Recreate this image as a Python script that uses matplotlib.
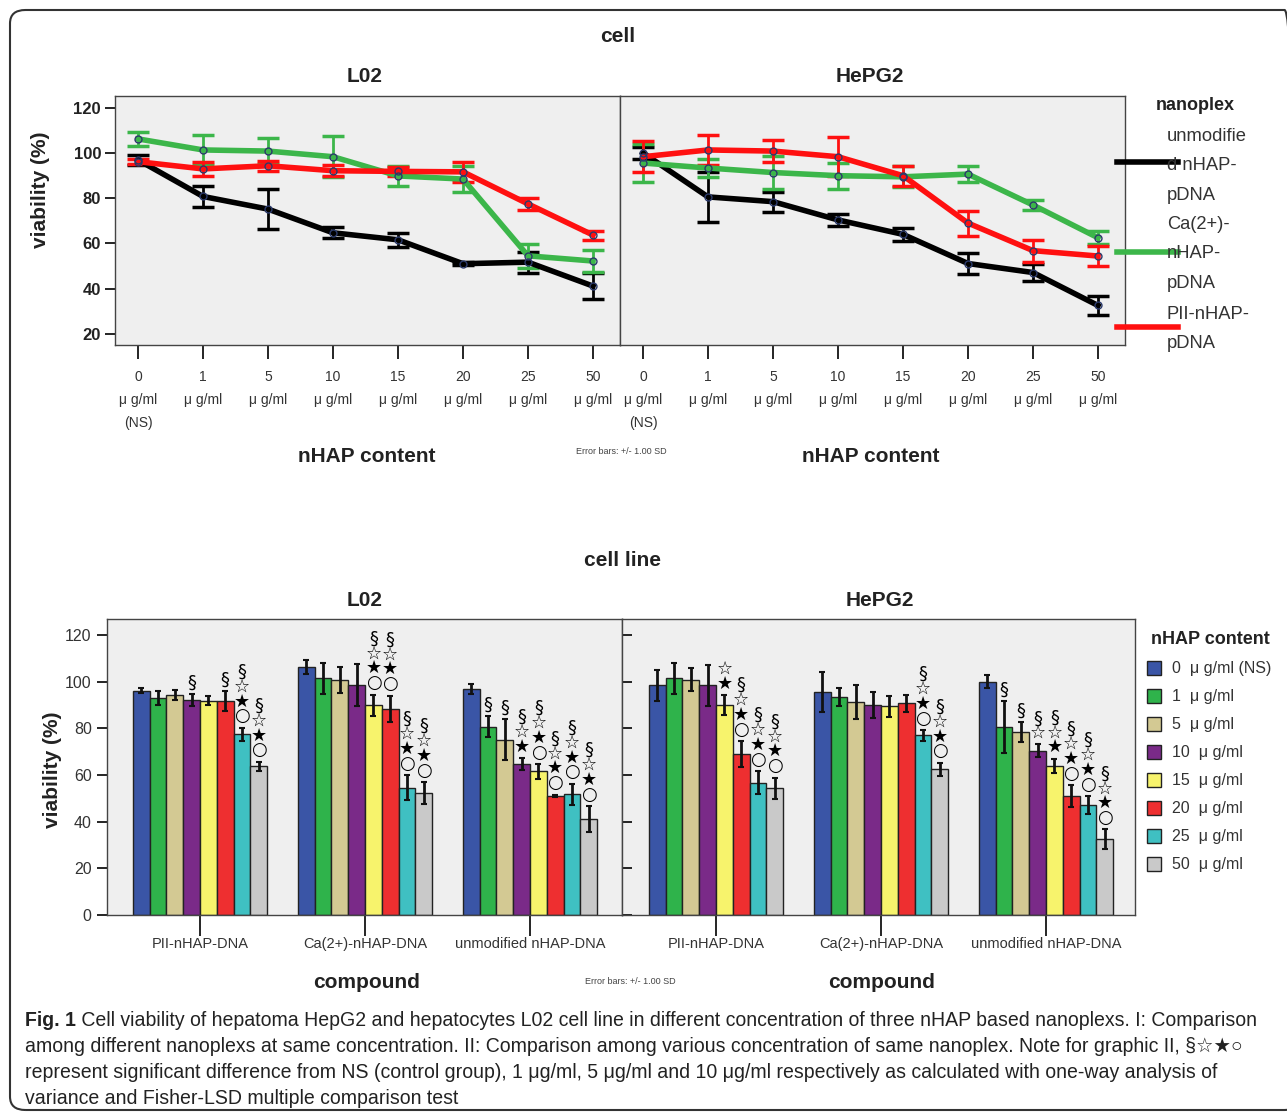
import numpy as np
import matplotlib
matplotlib.use("Agg")
import matplotlib.pyplot as plt
from matplotlib.patches import FancyBboxPatch, Rectangle
from matplotlib.lines import Line2D

plt.rcParams['font.family'] = ['Liberation Sans', 'DejaVu Sans']

W, H = 1287, 1119

# =======================
# Données
# =======================
conc_ticks = ['0\nμ g/ml\n(NS)', '1\nμ g/ml', '5\nμ g/ml', '10\nμ g/ml',
              '15\nμ g/ml', '20\nμ g/ml', '25\nμ g/ml', '50\nμ g/ml']
conc_legend = ['0  μ g/ml (NS)', '1  μ g/ml', '5  μ g/ml', '10  μ g/ml',
               '15  μ g/ml', '20  μ g/ml', '25  μ g/ml', '50  μ g/ml']
compounds = ['PII-nHAP-DNA', 'Ca(2+)-nHAP-DNA', 'unmodified nHAP-DNA']
nanoplex_labels = ['unmodifie\nd nHAP-\npDNA', 'Ca(2+)-\nnHAP-\npDNA', 'PII-nHAP-\npDNA']

# L02
l02_pii = [96.2, 93.0, 94.4, 92.2, 91.9, 91.7, 77.5, 63.7]
l02_pii_sd = [1.2, 3.0, 2.2, 2.4, 2.0, 4.4, 2.8, 2.0]
l02_ca = [106.3, 101.4, 100.9, 98.4, 89.9, 88.5, 54.5, 52.2]
l02_ca_sd = [3.0, 6.8, 5.6, 9.0, 4.6, 5.6, 5.4, 4.7]
l02_un = [97.0, 80.8, 75.2, 64.7, 61.6, 51.0, 51.7, 41.1]
l02_un_sd = [2.2, 4.5, 8.9, 2.5, 3.2, 0.6, 4.6, 5.7]

# HepG2
hep_pii = [98.4, 101.4, 100.9, 98.4, 90.0, 69.0, 56.8, 54.4]
hep_pii_sd = [6.8, 6.8, 5.0, 8.7, 4.4, 5.5, 4.9, 4.5]
hep_ca = [95.6, 93.4, 91.4, 90.0, 89.5, 90.7, 77.0, 62.5]
hep_ca_sd = [8.6, 3.9, 7.2, 5.7, 4.6, 3.6, 2.4, 2.8]
hep_un = [100.1, 80.6, 78.5, 70.4, 64.0, 51.1, 47.1, 32.5]
hep_un_sd = [2.8, 11.0, 4.4, 2.7, 3.0, 4.6, 3.8, 4.2]

# marques de significativité
sig_l02_pii = ['', '', '', '§', '', '§', '§☆★○', '§☆★○']
sig_l02_ca = ['', '', '', '', '§☆★○', '§☆★○', '§☆★○', '§☆★○']
sig_l02_un = ['', '§', '§', '§☆★', '§☆★○', '§☆★○', '§☆★○', '§☆★○']
sig_hep_pii = ['', '', '', '', '☆★', '§☆★○', '§☆★○', '§☆★○']
sig_hep_ca = ['', '', '', '', '', '', '§☆★○', '§☆★○']
sig_hep_un = ['', '§', '§', '§☆', '§☆★', '§☆★○', '§☆★○', '§☆★○']

bar_colors = ['#3a55a6', '#2fb34b', '#d3c993', '#7a2a88', '#f7f36c',
              '#ee2f30', '#3fc0c2', '#c9c9c9']
line_colors = ['#000000', '#3cb64a', '#ff1010']
BG = '#efefef'
TXT = '#222222'


def fx(x):
    return x / W


def fy(y):
    return 1 - y / H


def box(x0, y0, x1, y1):
    return [fx(x0), fy(y1), (x1 - x0) / W, (y1 - y0) / H]


fig = plt.figure(figsize=(W / 100, H / 100), dpi=100)

# cadre arrondi
frame = FancyBboxPatch((fx(10), fy(1110)), fx(1300) - fx(10), fy(10) - fy(1110),
                       boxstyle="round,pad=0,rounding_size=0.012",
                       transform=fig.transFigure, fill=False,
                       edgecolor='#333333', linewidth=1.5, clip_on=False)
fig.patches.append(frame)

# =======================
# Graphique I : lignes
# =======================
x = np.arange(len(conc_ticks))
top_panels = [
    (box(115, 96, 620, 345), [l02_un, l02_ca, l02_pii], [l02_un_sd, l02_ca_sd, l02_pii_sd], True),
    (box(620, 96, 1125, 345), [hep_un, hep_ca, hep_pii], [hep_un_sd, hep_ca_sd, hep_pii_sd], False),
]
for rect, series, sds, first in top_panels:
    ax = fig.add_axes(rect)
    ax.set_facecolor(BG)
    for vals, sd, col in zip(series, sds, line_colors):
        ax.errorbar(x, vals, yerr=sd, color=col, lw=4, elinewidth=2,
                    capsize=8, capthick=2.5, zorder=3)
        ax.plot(x, vals, 'o', ms=5, mfc='none', mec='#2b3a6b', mew=1, zorder=4)
    ax.set_xlim(-0.354, 7.415)
    ax.set_ylim(15, 125.3)
    ax.set_xticks(x)
    ax.set_xticklabels(conc_ticks, fontsize=10, color='#333333', linespacing=1.8)
    ax.tick_params(axis='x', length=10, width=1.2, direction='out', pad=8)
    if first:
        ax.set_yticks([20, 40, 60, 80, 100, 120])
        ax.set_yticklabels(['20', '40', '60', '80', '100', '120'],
                           fontsize=12, fontweight='bold', color=TXT)
        ax.tick_params(axis='y', length=7, width=1.2, direction='out', pad=3)
    else:
        ax.set_yticks([])
    for s in ax.spines.values():
        s.set_color('#444444')
        s.set_linewidth(1)

fig.text(fx(618), fy(37), 'cell', ha='center', va='center', fontsize=15, fontweight='bold', color=TXT)
fig.text(fx(365), fy(77), 'L02', ha='center', va='center', fontsize=15, fontweight='bold', color=TXT)
fig.text(fx(870), fy(77), 'HePG2', ha='center', va='center', fontsize=15, fontweight='bold', color=TXT)
fig.text(fx(40), fy(190), 'viability (%)', ha='center', va='center', rotation=90,
         fontsize=15, fontweight='bold', color=TXT)
fig.text(fx(367), fy(457), 'nHAP content', ha='center', va='center', fontsize=15, fontweight='bold', color=TXT)
fig.text(fx(871), fy(457), 'nHAP content', ha='center', va='center', fontsize=15, fontweight='bold', color=TXT)
fig.text(fx(621), fy(452), 'Error bars: +/- 1.00 SD', ha='center', va='center', fontsize=6.5, color='#444444')

# légende nanoplex
fig.text(fx(1195), fy(105), 'nanoplex', ha='center', va='center', fontsize=13, fontweight='bold', color=TXT)
leg_y = [134, 222, 312]
line_y = [162, 252, 327]
for lab, ty, ly, col in zip(nanoplex_labels, leg_y, line_y, line_colors):
    fig.text(fx(1167), fy(ty - 6), lab, ha='left', va='top', fontsize=13.2, color='#333333',
             linespacing=1.95)
    fig.lines.append(Line2D([fx(1117), fx(1178)], [fy(ly), fy(ly)], color=col, lw=4,
                            transform=fig.transFigure))

# =======================
# Graphique II : barres
# =======================
groups = np.arange(len(compounds))
nb = len(conc_ticks)
bw = 0.102
bottom_panels = [
    (box(107, 619, 622, 915), [l02_pii, l02_ca, l02_un], [l02_pii_sd, l02_ca_sd, l02_un_sd],
     [sig_l02_pii, sig_l02_ca, sig_l02_un], True, 200),
    (box(622, 619, 1135, 915), [hep_pii, hep_ca, hep_un], [hep_pii_sd, hep_ca_sd, hep_un_sd],
     [sig_hep_pii, sig_hep_ca, sig_hep_un], False, 716),
]
for rect, vals, sds, sigs, first, c0 in bottom_panels:
    ax = fig.add_axes(rect)
    ax.set_facecolor(BG)
    for i in range(nb):
        xs = groups + (i - (nb - 1) / 2) * bw
        hv = [v[i] for v in vals]
        he = [s[i] for s in sds]
        ax.bar(xs, hv, width=bw, color=bar_colors[i], edgecolor='#222222', linewidth=1, zorder=2)
        ax.errorbar(xs, hv, yerr=he, fmt='none', ecolor='#111111', elinewidth=2,
                    capsize=2, capthick=1.5, zorder=3)
        for g in range(len(compounds)):
            mk = sigs[g][i]
            if mk:
                ax.text(xs[g], hv[g] + he[g] + 1.0, '\n'.join(mk), ha='center', va='bottom',
                        fontsize=13, linespacing=0.78, color='#000000', zorder=4,
                        family=['DejaVu Sans'])
    left = (107 if first else 622)
    right = (622 if first else 1135)
    ax.set_xlim((left - c0) / 165, (right - c0) / 165)
    ax.set_ylim(0, 126.9)
    ax.set_xticks(groups)
    ax.set_xticklabels(compounds, fontsize=10.5, color='#333333')
    ax.tick_params(axis='x', length=15, width=1.2, direction='out', pad=1)
    if first:
        ax.set_yticks(np.arange(0, 121, 20))
        ax.tick_params(axis='y', length=7, width=1.2, direction='out', labelsize=11.5,
                       labelcolor='#333333', pad=4)
    else:
        ax.set_yticks(np.arange(0, 121, 20))
        ax.tick_params(axis='y', length=7, width=1.2, direction='in', labelleft=False)
    for s in ax.spines.values():
        s.set_color('#444444')
        s.set_linewidth(1)

fig.text(fx(622), fy(560), 'cell line', ha='center', va='center', fontsize=15, fontweight='bold', color=TXT)
fig.text(fx(365), fy(600), 'L02', ha='center', va='center', fontsize=15, fontweight='bold', color=TXT)
fig.text(fx(880), fy(600), 'HePG2', ha='center', va='center', fontsize=15, fontweight='bold', color=TXT)
fig.text(fx(52), fy(770), 'viability (%)', ha='center', va='center', rotation=90,
         fontsize=15, fontweight='bold', color=TXT)
fig.text(fx(367), fy(982), 'compound', ha='center', va='center', fontsize=15, fontweight='bold', color=TXT)
fig.text(fx(882), fy(982), 'compound', ha='center', va='center', fontsize=15, fontweight='bold', color=TXT)
fig.text(fx(630), fy(982), 'Error bars: +/- 1.00 SD', ha='center', va='center', fontsize=6.5, color='#444444')

# légende nHAP content
fig.text(fx(1210), fy(640), 'nHAP content', ha='center', va='center', fontsize=13, fontweight='bold', color=TXT)
for i, (lab, col) in enumerate(zip(conc_legend, bar_colors)):
    yy = 668 + 28 * i
    fig.patches.append(Rectangle((fx(1147), fy(yy + 7)), 14 / W, 14 / H, facecolor=col,
                                 edgecolor='#222222', linewidth=1, transform=fig.transFigure))
    fig.text(fx(1172), fy(yy), lab, ha='left', va='center', fontsize=11.5, color='#333333')

# =======================
# Légende de la figure
# =======================
cap_lines = [
    ' Cell viability of hepatoma HepG2 and hepatocytes L02 cell line in different concentration of three nHAP based nanoplexs. I: Comparison',
    'among different nanoplexs at same concentration. II: Comparison among various concentration of same nanoplex. Note for graphic II, §☆★○',
    'represent significant difference from NS (control group), 1 μg/ml, 5 μg/ml and 10 μg/ml respectively as calculated with one-way analysis of',
    'variance and Fisher-LSD multiple comparison test',
]
cap_font = ['Liberation Sans', 'DejaVu Sans']
t0 = fig.text(fx(25), fy(1021), 'Fig. 1', ha='left', va='center', fontsize=13, fontweight='bold',
              color='#222222', family=cap_font)
t1 = fig.text(fx(70), fy(1021), cap_lines[0], ha='left', va='center', fontsize=13,
              color='#222222', family=cap_font)
fig.canvas.draw()
w_tot = t0.get_window_extent().width + t1.get_window_extent().width
fs = 13 * 1227 / w_tot
t0.set_fontsize(fs)
fig.canvas.draw()
bb = t0.get_window_extent()
t1.set_fontsize(fs)
t1.set_position((bb.x1 / W, fy(1021)))
for k, ln in enumerate(cap_lines[1:]):
    fig.text(fx(25), fy(1047 + 26 * k), ln, ha='left', va='center', fontsize=fs,
             color='#222222', family=cap_font)

fig.savefig('out.png', dpi=100)
